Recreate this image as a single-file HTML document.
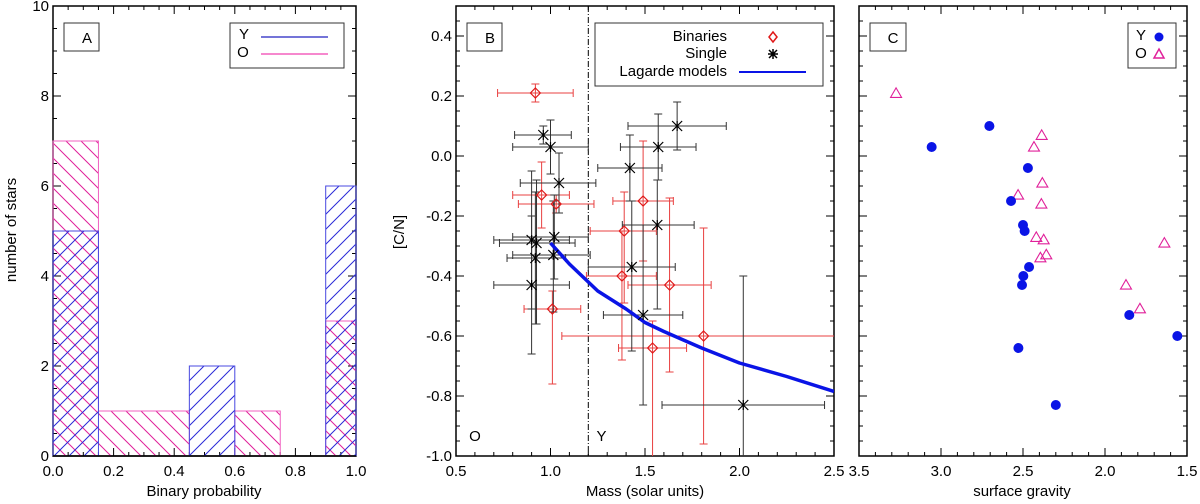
<!DOCTYPE html>
<html><head><meta charset="utf-8"><style>
html,body{margin:0;padding:0;background:#fff;}
svg{display:block;font-family:"Liberation Sans",Arial,sans-serif;}
</style></head><body>
<svg id="fig" width="1200" height="504" viewBox="0 0 1200 504" xmlns="http://www.w3.org/2000/svg">
<defs>
<pattern id="hatchY" patternUnits="userSpaceOnUse" width="15" height="15"><path d="M-2,17 L17,-2 M-2,2 L2,-2 M13,17 L17,13" stroke="#2a2ad8" stroke-width="1"/></pattern>
<pattern id="hatchO" patternUnits="userSpaceOnUse" width="15" height="15"><path d="M-2,-2 L17,17 M13,-2 L17,2 M-2,13 L2,17" stroke="#e0209a" stroke-width="1"/></pattern>
<clipPath id="clipB"><rect x="456" y="6" width="378" height="450"/></clipPath>
</defs>
<g id="panelA"></g>
<g id="panelB"></g>
<g id="panelC"></g>
</svg>
<script>
// ---------- Panel A data ----------
const binEdges = [0, 0.15, 0.3, 0.45, 0.6, 0.75, 0.9, 1.0];
const countsY = [5, 0, 0, 2, 0, 0, 6];
const countsO = [7, 1, 1, 0, 1, 0, 3];
const ticksA_x = ["0.0","0.2","0.4","0.6","0.8","1.0"];
const ticksA_y = ["0","2","4","6","8","10"];
// ---------- Panel B data ----------
const binMass = [0.92, 0.953, 1.03, 1.01, 1.39, 1.378, 1.49, 1.63, 1.54, 1.81];
const binCN   = [0.21, -0.13, -0.16, -0.51, -0.25, -0.40, -0.15, -0.43, -0.64, -0.60];
const binMlo  = [0.72, 0.80, 0.83, 0.86, 1.21, 1.19, 1.33, 1.41, 1.36, 1.06];
const binMhi  = [1.12, 1.10, 1.23, 1.16, 1.56, 1.56, 1.65, 1.85, 1.72, 2.6];
const binClo  = [0.18, -0.24, -0.19, -0.76, -0.49, -0.68, -0.35, -0.72, -1.1, -0.96];
const binChi  = [0.24, -0.02, -0.13, -0.45, -0.12, -0.25, 0.05, -0.14, -0.55, -0.24];
const sinMass = [0.962, 1.00, 1.045, 0.90, 0.926, 0.92, 0.90, 1.02, 1.015, 1.42, 1.57, 1.67, 1.565, 1.43, 1.49, 2.02];
const sinCN   = [0.07, 0.03, -0.09, -0.28, -0.29, -0.34, -0.43, -0.27, -0.33, -0.04, 0.03, 0.10, -0.23, -0.37, -0.53, -0.83];
const sinMlo  = [0.81, 0.80, 0.84, 0.70, 0.73, 0.77, 0.70, 0.80, 0.80, 1.25, 1.37, 1.41, 1.38, 1.20, 1.28, 1.59];
const sinMhi  = [1.11, 1.20, 1.24, 1.10, 1.13, 1.08, 1.10, 1.20, 1.21, 1.59, 1.77, 1.93, 1.76, 1.66, 1.70, 2.45];
const sinClo  = [0.04, -0.06, -0.19, -0.51, -0.56, -0.56, -0.66, -0.41, -0.52, -0.15, -0.08, 0.02, -0.51, -0.65, -0.83, -1.05];
const sinChi  = [0.10, 0.12, 0.01, -0.05, -0.08, -0.12, -0.20, -0.13, -0.15, 0.07, 0.14, 0.18, -0.08, -0.15, -0.23, -0.40];
const lagMass = [1.0, 1.1, 1.2, 1.25, 1.4, 1.5, 1.6, 1.8, 2.0, 2.25, 2.5];
const lagCN   = [-0.29, -0.36, -0.42, -0.45, -0.51, -0.555, -0.585, -0.64, -0.69, -0.735, -0.785];
const ticksB_x = ["0.5","1.0","1.5","2.0","2.5"];
const ticksCN = ["0.4","0.2","0.0","-0.2","-0.4","-0.6","-0.8","-1.0"];
// ---------- Panel C data ----------
const yGrav = [3.057, 2.705, 2.47, 2.573, 2.50, 2.49, 2.463, 2.498, 2.506, 1.852, 1.559, 2.528, 2.30];
const yCN   = [0.03, 0.10, -0.04, -0.15, -0.23, -0.25, -0.37, -0.40, -0.43, -0.53, -0.60, -0.64, -0.83];
const oGrav = [3.274, 2.386, 2.433, 2.382, 2.53, 2.388, 2.419, 2.374, 1.638, 2.358, 2.394, 1.872, 1.787];
const oCN   = [0.207, 0.067, 0.028, -0.092, -0.132, -0.162, -0.273, -0.281, -0.292, -0.331, -0.341, -0.432, -0.511];
const ticksC_x = ["3.5","3.0","2.5","2.0","1.5"];

const NS = "http://www.w3.org/2000/svg";
function mk(parent, tag, attrs, text){
  const e = document.createElementNS(NS, tag);
  for (const k in attrs) e.setAttribute(k, attrs[k]);
  if (text !== undefined) e.textContent = text;
  parent.appendChild(e);
  return e;
}
const TOP = 6, BOT = 456;
function lin(d0, d1, r0, r1){ return v => r0 + (v - d0) * (r1 - r0) / (d1 - d0); }

function drawFrame(g, x0, x1, xd0, xd1, xMajor, xMinor, yd0, yd1, yMajor, yMinor, xLabels, yLabels){
  const sx = lin(xd0, xd1, x0, x1), sy = lin(yd0, yd1, BOT, TOP);
  const frame = mk(g, 'rect', {x:x0, y:TOP, width:x1-x0, height:BOT-TOP, fill:'none', stroke:'#000', 'stroke-width':1.5});
  
  
  const lo = Math.min(xd0, xd1), hi = Math.max(xd0, xd1);
  const nx = Math.round((hi - lo) / xMinor);
  let p = '';
  for (let i = 0; i <= nx; i++){
    const v = lo + i * xMinor;
    const maj = Math.abs(v / xMajor - Math.round(v / xMajor)) < 1e-6;
    const L = maj ? 8 : 4, X = sx(v);
    p += `M${X},${BOT}v${-L}M${X},${TOP}v${L}`;
  }
  const ny = Math.round((yd1 - yd0) / yMinor);
  for (let i = 0; i <= ny; i++){
    const v = yd0 + i * yMinor;
    const maj = Math.abs(v / yMajor - Math.round(v / yMajor)) < 1e-6;
    const L = maj ? 8 : 4, Y = sy(v);
    p += `M${x0},${Y}h${L}M${x1},${Y}h${-L}`;
  }
  const t = mk(g, 'path', {d:p, stroke:'#000', 'stroke-width':1, fill:'none'});
  
  
  xLabels.forEach(s => {
    const el = mk(g, 'text', {x:sx(parseFloat(s)), y:476, 'font-size':15, 'text-anchor':'middle'}, s);
    
    
  });
  yLabels.forEach(s => {
    const el = mk(g, 'text', {x:x0-4, y:sy(parseFloat(s))+5, 'font-size':15, 'text-anchor':'end'}, s);
    
    
  });
  return {sx, sy};
}
function labelText(g, x, y, s, name, size, anchor, rot){
  const a = {x:x, y:y, 'font-size':size||15, 'text-anchor':anchor||'middle'};
  if (rot) a.transform = `rotate(-90 ${x} ${y})`;
  const el = mk(g, 'text', a, s);
  
  
  return el;
}
function box(g, x, y, w, h, name){
  const el = mk(g, 'rect', {x:x, y:y, width:w, height:h, fill:'#fff', stroke:'#333', 'stroke-width':1});
  
  
}

// ---------------- Panel A ----------------
(function(){
  const g = document.getElementById('panelA');
  const A = drawFrame(g, 53, 356, 0, 1, 0.2, 0.05, 0, 10, 2, 0.5, ticksA_x, ticksA_y);
  function hist(counts, fillId, color, name){
    counts.forEach((c, i) => {
      if (c <= 0) return;
      const xa = A.sx(binEdges[i]), xb = A.sx(binEdges[i+1]);
      const r = mk(g, 'rect', {x:xa, y:A.sy(c), width:xb-xa, height:A.sy(0)-A.sy(c), fill:`url(#${fillId})`});
      
      
    });
    let d = `M${A.sx(binEdges[0])},${A.sy(0)}`;
    counts.forEach((c, i) => {
      d += `L${A.sx(binEdges[i])},${A.sy(c)}L${A.sx(binEdges[i+1])},${A.sy(c)}`;
    });
    d += `L${A.sx(binEdges[binEdges.length-1])},${A.sy(0)}`;
    const o = mk(g, 'path', {d:d, fill:'none', stroke:color, 'stroke-width':1});
    
    
  }
  hist(countsO, 'hatchO', '#f060c0', 'hist-o');
  hist(countsY, 'hatchY', '#4848e0', 'hist-y');
  const base = mk(g, 'line', {x1:53, x2:356, y1:BOT, y2:BOT, stroke:'#000', 'stroke-width':1.5});
  
  
  box(g, 64, 23, 35, 28, 'panel-a-label-box');
  labelText(g, 87, 43, 'A', 'panel-a-label');
  box(g, 230, 23, 114, 45, 'legend-a');
  labelText(g, 244, 39, 'Y', 'legend-y-label');
  labelText(g, 243, 57, 'O', 'legend-o-label');
  let l = mk(g, 'line', {x1:261, x2:328, y1:37, y2:37, stroke:'#2020c0', 'stroke-width':1.2});
   
  l = mk(g, 'line', {x1:261, x2:328, y1:54, y2:54, stroke:'#f040b0', 'stroke-width':1.2});
   
  labelText(g, 204, 496, 'Binary probability', 'x-axis-title');
  labelText(g, 16, 230, 'number of stars', 'y-axis-title', 15, 'middle', true);
})();

// ---------------- Panel B ----------------
(function(){
  const g = document.getElementById('panelB');
  const B = drawFrame(g, 456, 834, 0.5, 2.5, 0.5, 0.1, -1.0, 0.5, 0.2, 0.05, ticksB_x, ticksCN);
  const dl = mk(g, 'line', {x1:B.sx(1.2), x2:B.sx(1.2), y1:TOP, y2:BOT, stroke:'#000', 'stroke-width':1, 'stroke-dasharray':'6,2,1,2'});
   
  const cg = mk(g, 'g', {'clip-path':'url(#clipB)'});
  function errs(ms, cs, mlo, mhi, clo, chi, color, name){
    ms.forEach((m, i) => {
      const x = B.sx(m), y = B.sy(cs[i]);
      const xa = B.sx(mlo[i]), xb = B.sx(mhi[i]), ya = B.sy(clo[i]), yb = B.sy(chi[i]);
      const d = `M${xa},${y}H${xb}M${xa},${y-4}v8M${xb},${y-4}v8M${x},${ya}V${yb}M${x-4},${ya}h8M${x-4},${yb}h8`;
      const e = mk(cg, 'path', {d:d, stroke:color, 'stroke-width':1, fill:'none'});
      
      
    });
  }
  errs(binMass, binCN, binMlo, binMhi, binClo, binChi, '#e84040', 'binary');
  errs(sinMass, sinCN, sinMlo, sinMhi, sinClo, sinChi, '#333', 'single');
  let d = '';
  lagMass.forEach((m, i) => { d += (i ? 'L' : 'M') + B.sx(m) + ',' + B.sy(lagCN[i]); });
  const lag = mk(cg, 'path', {d:d, stroke:'#0a14e6', 'stroke-width':3.5, fill:'none', 'stroke-linejoin':'round'});
   
  binMass.forEach((m, i) => {
    const x = B.sx(m), y = B.sy(binCN[i]);
    const p = mk(cg, 'path', {d:`M${x},${y-5}L${x+5},${y}L${x},${y+5}L${x-5},${y}Z`, fill:'none', stroke:'#e01818', 'stroke-width':1.2});
     
  });
  sinMass.forEach((m, i) => {
    const x = B.sx(m), y = B.sy(sinCN[i]);
    const p = mk(cg, 'path', {d:`M${x-5},${y-5}L${x+5},${y+5}M${x-5},${y+5}L${x+5},${y-5}M${x},${y-5}V${y+5}`, stroke:'#000', 'stroke-width':1.2});
     
  });
  labelText(g, B.sx(0.6), B.sy(-0.93)+6, 'O', 'old-region-label');
  labelText(g, B.sx(1.27), B.sy(-0.93)+6, 'Y', 'young-region-label');
  box(g, 467, 23, 35, 28, 'panel-b-label-box');
  labelText(g, 490, 43, 'B', 'panel-b-label');
  box(g, 595, 23, 228, 63, 'legend-b');
  labelText(g, 727, 41, 'Binaries', 'legend-binaries-label', 15, 'end');
  labelText(g, 727, 58, 'Single', 'legend-single-label', 15, 'end');
  labelText(g, 727, 76, 'Lagarde models', 'legend-lagarde-label', 15, 'end');
  let p = mk(g, 'path', {d:'M773,32L777,37L773,42L769,37Z', fill:'none', stroke:'#e01818', 'stroke-width':1.5});
   
  p = mk(g, 'path', {d:'M769,50L777,58M769,58L777,50M773,49V59M768,54H778', stroke:'#000', 'stroke-width':1.5});
   
  p = mk(g, 'line', {x1:739, x2:806, y1:72, y2:72, stroke:'#0a14e6', 'stroke-width':2});
   
  labelText(g, 645, 496, 'Mass (solar units)', 'x-axis-title');
  labelText(g, 404, 232, '[C/N]', 'y-axis-title', 15, 'middle', true);
})();

// ---------------- Panel C ----------------
(function(){
  const g = document.getElementById('panelC');
  const C = drawFrame(g, 859, 1187, 3.5, 1.5, 0.5, 0.1, -1.0, 0.5, 0.2, 0.05, ticksC_x, []);
  oGrav.forEach((v, i) => {
    const x = C.sx(v), y = C.sy(oCN[i]);
    const p = mk(g, 'path', {d:`M${x},${y-6}L${x+5.5},${y+3.5}L${x-5.5},${y+3.5}Z`, fill:'none', stroke:'#e0209a', 'stroke-width':1.1});
     
  });
  yGrav.forEach((v, i) => {
    const c = mk(g, 'circle', {cx:C.sx(v), cy:C.sy(yCN[i]), r:5, fill:'#0a14e6'});
     
  });
  box(g, 870, 23, 36, 28, 'panel-c-label-box');
  labelText(g, 893, 43, 'C', 'panel-c-label');
  box(g, 1128, 23, 48, 45, 'legend-c');
  labelText(g, 1141, 40, 'Y', 'legend-y-label');
  labelText(g, 1141, 58, 'O', 'legend-o-label');
  const c = mk(g, 'circle', {cx:1159, cy:37, r:4.5, fill:'#0a14e6'});
   
  const t = mk(g, 'path', {d:'M1159,49L1164,58L1154,58Z', fill:'none', stroke:'#e0209a', 'stroke-width':1.5});
   
  labelText(g, 1022, 496, 'surface gravity', 'x-axis-title');
})();
</script>
</body></html>
